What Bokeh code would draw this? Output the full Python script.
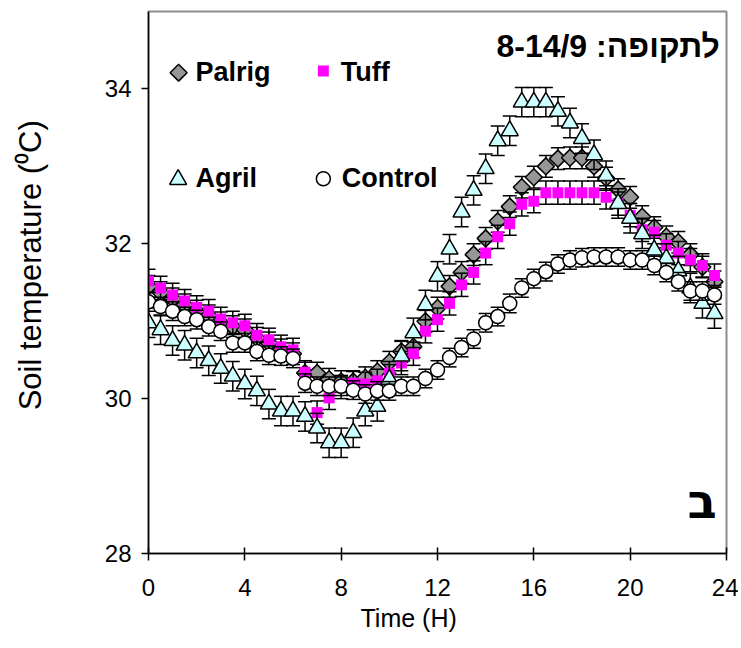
import math
from bokeh.plotting import figure
from bokeh.models import ColumnDataSource, Label, Range1d, FixedTicker, Title
from bokeh.embed import file_html
from bokeh.resources import INLINE

# ---------------- data ----------------
hours = [0.0, 0.5, 1.0, 1.5, 2.0, 2.5, 3.0, 3.5, 4.0, 4.5, 5.0, 5.5,
         6.0, 6.5, 7.0, 7.5, 8.0, 8.5, 9.0, 9.5, 10.0, 10.5, 11.0, 11.5,
         12.0, 12.5, 13.0, 13.5, 14.0, 14.5, 15.0, 15.5, 16.0, 16.5, 17.0, 17.5,
         18.0, 18.5, 19.0, 19.5, 20.0, 20.5, 21.0, 21.5, 22.0, 22.5, 23.0, 23.5]

palrig = [31.45, 31.37, 31.29, 31.21, 31.13, 31.07, 30.98, 30.93, 30.89, 30.78, 30.72, 30.63,
          30.58, 30.33, 30.33, 30.25, 30.22, 30.22, 30.27, 30.35, 30.47, 30.61, 30.67, 31.00,
          31.17, 31.45, 31.63, 31.86, 32.07, 32.29, 32.48, 32.73, 32.86, 33.00, 33.10, 33.11,
          33.11, 33.00, 32.85, 32.70, 32.60, 32.35, 32.21, 32.09, 32.02, 31.86, 31.70, 31.51]

tuff = [31.52, 31.43, 31.34, 31.26, 31.18, 31.13, 31.03, 30.98, 30.94, 30.82, 30.76, 30.67,
        30.63, 30.34, 29.82, 30.01, 30.15, 30.20, 30.19, 30.23, 30.33, 30.46, 30.58, 30.87,
        31.02, 31.23, 31.47, 31.63, 31.88, 32.09, 32.26, 32.51, 32.55, 32.66, 32.66, 32.66,
        32.66, 32.66, 32.60, 32.52, 32.37, 32.18, 32.15, 31.98, 31.88, 31.79, 31.72, 31.59]

agril = [30.98, 30.89, 30.75, 30.69, 30.59, 30.49, 30.39, 30.29, 30.19, 30.10, 29.93, 29.84,
         29.84, 29.77, 29.62, 29.43, 29.43, 29.56, 29.84, 29.90, 30.25, 30.55, 30.85, 31.21,
         31.58, 31.93, 32.41, 32.69, 32.97, 33.33, 33.46, 33.83, 33.83, 33.83, 33.71, 33.56,
         33.36, 33.15, 32.88, 32.52, 32.33, 32.13, 31.92, 31.81, 31.65, 31.43, 31.23, 31.10]

control = [31.25, 31.19, 31.13, 31.06, 31.02, 30.93, 30.87, 30.72, 30.72, 30.61, 30.56, 30.55,
           30.52, 30.20, 30.16, 30.16, 30.16, 30.11, 30.06, 30.10, 30.10, 30.16, 30.16, 30.26,
           30.37, 30.53, 30.66, 30.77, 30.98, 31.06, 31.23, 31.43, 31.55, 31.64, 31.74, 31.79,
           31.82, 31.83, 31.83, 31.83, 31.79, 31.79, 31.72, 31.63, 31.51, 31.39, 31.39, 31.34]

# standard errors (estimated, one per series)
palrig_se = 0.14
tuff_se = 0.15
agril_se = 0.19
control_se = 0.12

series_names = ["Palrig", "Tuff", "Agril", "Control"]
x_ticks = [0, 4, 8, 12, 16, 20, 24]
y_ticks = [28, 30, 32, 34]
title_text = "\u202bלתקופה: 8-14/9\u202c"
corner_text = "ב"
x_title = "Time (H)"
y_title = "Soil temperature  (\u2070C)"

# ---------------- styles ----------------
FONT = "Liberation Sans"
styles = {
    "Palrig": dict(marker="square", size=12, angle=math.pi / 4, fill_color="#969696",
                   line_color="black", line_width=1.5),
    "Tuff": dict(marker="square", size=11, angle=0.0, fill_color="#FF00FF",
                 line_color=None, line_width=0),
    "Agril": dict(marker="triangle", size=17, angle=0.0, fill_color="#CCFFFF",
                  line_color="black", line_width=1.5),
    "Control": dict(marker="circle", size=14, angle=0.0, fill_color="white",
                    line_color="black", line_width=1.5),
}
values = {"Palrig": palrig, "Tuff": tuff, "Agril": agril, "Control": control}
errors = {"Palrig": palrig_se, "Tuff": tuff_se, "Agril": agril_se, "Control": control_se}

p = figure(frame_width=578, frame_height=542,
           x_range=Range1d(0, 24), y_range=Range1d(28, 35),
           output_backend="svg", toolbar_location=None,
           min_border_left=148, min_border_right=12, min_border_top=11, min_border_bottom=92)
p.background_fill_color = "white"
p.border_fill_color = "white"
p.outline_line_color = "#8c8c8c"
p.outline_line_width = 2
p.xgrid.visible = False
p.ygrid.visible = False

for ax in (p.xaxis[0], p.yaxis[0]):
    ax.axis_line_color = "black"
    ax.axis_line_width = 1.5
    ax.major_tick_line_color = "black"
    ax.major_tick_line_width = 1.5
    ax.minor_tick_line_color = None
    ax.major_label_text_font = FONT
    ax.major_label_text_font_size = "24px"
    ax.major_label_text_color = "black"

p.xaxis.ticker = FixedTicker(ticks=x_ticks)
p.yaxis.ticker = FixedTicker(ticks=y_ticks)
p.xaxis.major_tick_in = 6
p.xaxis.major_tick_out = 7
p.xaxis.major_label_standoff = 18
p.yaxis.major_tick_in = 0
p.yaxis.major_tick_out = 7
p.yaxis.major_label_standoff = 10

# axis titles
p.add_layout(Title(text=x_title, align="left", offset=212, standoff=6,
                   text_font=FONT, text_font_size="25px", text_font_style="normal",
                   text_color="black"), "below")
# y title: leading no-break spaces lift the label above the frame centre, as in the reference
p.yaxis.axis_label = "\u00a0" * 5 + y_title
p.yaxis.axis_label_text_font = FONT
p.yaxis.axis_label_text_font_size = "31px"
p.yaxis.axis_label_text_font_style = "normal"
p.yaxis.axis_label_text_color = "black"
p.yaxis.axis_label_standoff = 54

# ---------------- series ----------------
for name in series_names:
    v = values[name]
    e = errors[name]
    src = ColumnDataSource(dict(t=hours, v=v,
                                lo=[a - e for a in v], hi=[a + e for a in v]))
    p.segment(x0="t", y0="lo", x1="t", y1="hi", source=src, line_color="black", line_width=1.5)
    p.scatter(x="t", y="lo", source=src, marker="dash", size=14, line_color="black", line_width=1.5)
    p.scatter(x="t", y="hi", source=src, marker="dash", size=14, line_color="black", line_width=1.5)
    st = styles[name]
    p.scatter(x="t", y="v", source=src, marker=st["marker"], size=st["size"], angle=st["angle"],
              fill_color=st["fill_color"], line_color=st["line_color"], line_width=st["line_width"])

# ---------------- legend (2 x 2, in-plot) ----------------
legend_layout = {  # swatch position (x, y) and label position
    "Palrig": (1.25, 34.21, 1.95, 34.22),
    "Tuff": (7.26, 34.23, 7.98, 34.22),
    "Agril": (1.23, 32.83, 1.95, 32.85),
    "Control": (7.26, 32.84, 8.02, 32.85),
}
for name in series_names:
    sx, sy, lx, ly = legend_layout[name]
    st = styles[name]
    p.scatter(x=[sx], y=[sy], marker=st["marker"], size=st["size"], angle=st["angle"],
              fill_color=st["fill_color"], line_color=st["line_color"], line_width=st["line_width"])
    p.add_layout(Label(x=lx, y=ly, text=name, text_font=FONT, text_font_size="27px",
                       text_font_style="bold", text_color="black", text_baseline="alphabetic"))

# ---------------- texts ----------------
p.add_layout(Label(x=23.72, y=34.55, text=title_text, text_font=FONT, text_font_size="32px",
                   text_font_style="bold", text_color="black",
                   text_align="right", text_baseline="alphabetic"))
p.add_layout(Label(x=23.6, y=28.68, text=corner_text, text_font="DejaVu Sans", text_font_size="48px",
                   text_font_style="bold", text_color="black",
                   text_align="right", text_baseline="alphabetic"))

open("out.html", "w").write(file_html(p, INLINE))
